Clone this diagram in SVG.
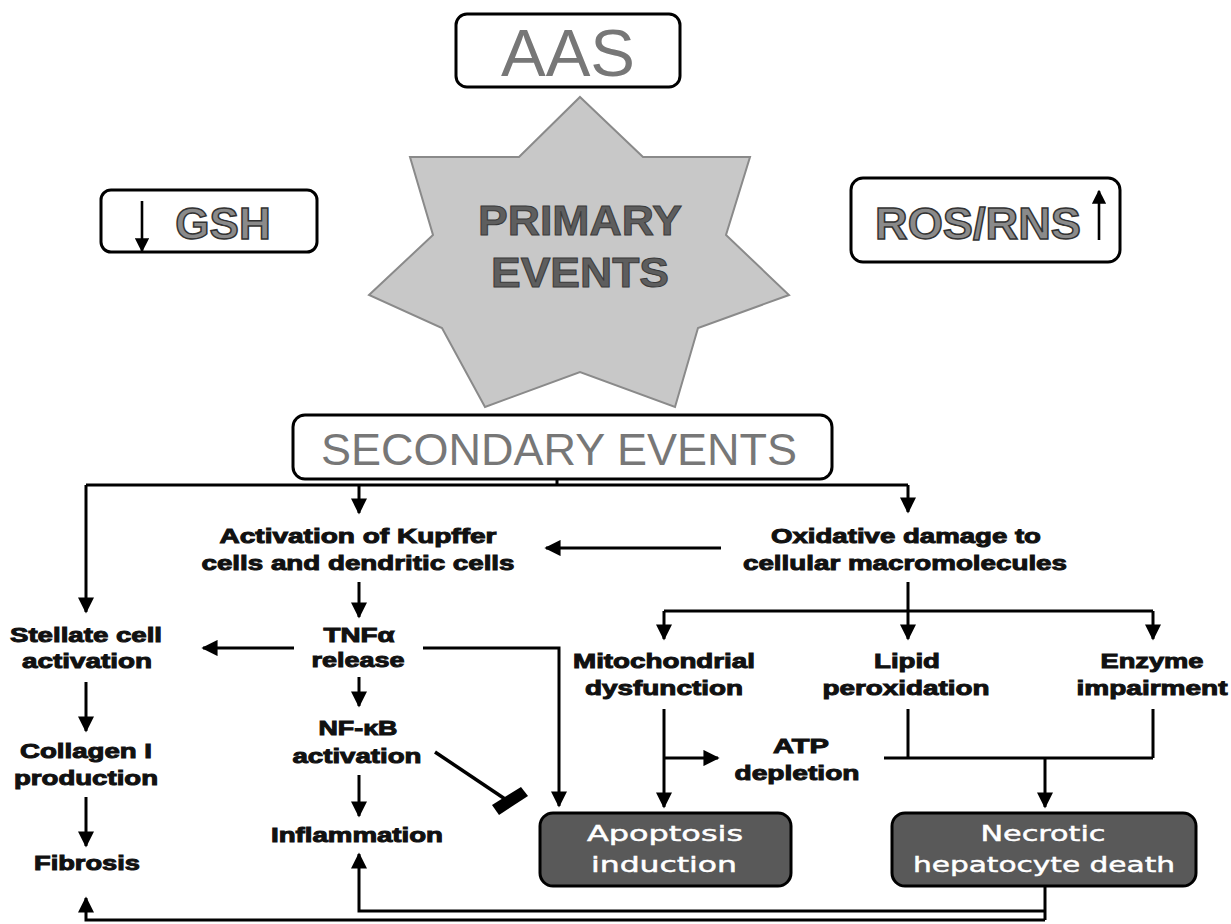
<svg xmlns="http://www.w3.org/2000/svg" width="1231" height="924" viewBox="0 0 1231 924">
<style>
.box{fill:#fff;stroke:#000;stroke-width:3}
.dark{fill:#595959;stroke:#000;stroke-width:3}
.lbl{font-family:"Liberation Sans",Arial,sans-serif;font-weight:bold;font-size:21px;fill:#111;stroke:#111;stroke-width:1;text-anchor:middle}
.wt{font-family:"DejaVu Sans","Liberation Sans",sans-serif;font-size:22px;fill:#fff;stroke:#fff;stroke-width:0.5;text-anchor:middle}
.big{font-family:"Liberation Sans",Arial,sans-serif;fill:#777;text-anchor:middle}
.out{font-family:"Liberation Sans",Arial,sans-serif;font-weight:bold;fill:#8a8a8a;stroke:#333;stroke-width:1.5;text-anchor:middle}
.ln{fill:none;stroke:#000;stroke-width:3}
.arr{marker-end:url(#ah)}
</style>
<defs>
<marker id="ah" viewBox="0 0 10 10" refX="9" refY="5" markerWidth="5.4" markerHeight="5.4" orient="auto"><path d="M0,0 L10,5 L0,10z" fill="#000"/></marker>
</defs>
<rect width="1231" height="924" fill="#fff"/>

<g id="aas">
<rect class="box" x="456" y="14" width="224" height="73" rx="11"/>
<text class="big" x="568" y="76" font-size="67">AAS</text>
</g>

<g id="gsh">
<rect class="box" x="101" y="190" width="216" height="62" rx="10"/>
<path class="ln arr" d="M142,201 V251" style="stroke-width:2.6"/>
<text class="out" x="223" y="239" font-size="44">GSH</text>
</g>

<g id="ros">
<rect class="box" x="851" y="178" width="269" height="84" rx="12"/>
<text class="out" x="978" y="239" font-size="45" textLength="206" lengthAdjust="spacingAndGlyphs">ROS/RNS</text>
<path class="ln arr" d="M1099,240 V191" style="stroke-width:2.6"/>
</g>

<g id="primary">
<polygon points="580,97 643,157 750,157 726,235 789,295 698,328 675,407 580,372 485,407 442,328 369,295 433,235 410,157 519,157" fill="#c8c8c8" stroke="#8a8a8a" stroke-width="2"/>
<text x="580" y="235" font-family="Liberation Sans,Arial,sans-serif" font-weight="bold" font-size="42" fill="#5e5e5e" stroke="#3a3a3a" stroke-width="1" text-anchor="middle" textLength="204" lengthAdjust="spacingAndGlyphs">PRIMARY</text>
<text x="580" y="287" font-family="Liberation Sans,Arial,sans-serif" font-weight="bold" font-size="42" fill="#5e5e5e" stroke="#3a3a3a" stroke-width="1" text-anchor="middle" textLength="178" lengthAdjust="spacingAndGlyphs">EVENTS</text>
</g>

<g id="secondary">
<rect class="box" x="293" y="415" width="539" height="64" rx="12"/>
<text class="big" x="559" y="465" font-size="45">SECONDARY EVENTS</text>
</g>

<g id="kupffer">
<text class="lbl" x="358" y="543" textLength="277" lengthAdjust="spacingAndGlyphs">Activation of Kupffer</text>
<text class="lbl" x="358" y="570" textLength="313" lengthAdjust="spacingAndGlyphs">cells and dendritic cells</text>
</g>
<g id="oxidative">
<text class="lbl" x="906" y="543" textLength="270" lengthAdjust="spacingAndGlyphs">Oxidative damage to</text>
<text class="lbl" x="905" y="570" textLength="324" lengthAdjust="spacingAndGlyphs">cellular macromolecules</text>
</g>
<g id="stellate">
<text class="lbl" x="86" y="642" textLength="152" lengthAdjust="spacingAndGlyphs">Stellate cell</text>
<text class="lbl" x="87" y="668" textLength="130" lengthAdjust="spacingAndGlyphs">activation</text>
</g>
<g id="tnf">
<text class="lbl" x="359" y="642" textLength="71" lengthAdjust="spacingAndGlyphs">TNFα</text>
<text class="lbl" x="358" y="667" textLength="93" lengthAdjust="spacingAndGlyphs">release</text>
</g>
<g id="nfkb">
<text class="lbl" x="358" y="735" textLength="79" lengthAdjust="spacingAndGlyphs">NF-κB</text>
<text class="lbl" x="357" y="763" textLength="129" lengthAdjust="spacingAndGlyphs">activation</text>
</g>
<g id="inflammation">
<text class="lbl" x="357" y="842" textLength="172" lengthAdjust="spacingAndGlyphs">Inflammation</text>
</g>
<g id="collagen">
<text class="lbl" x="86" y="758" textLength="132" lengthAdjust="spacingAndGlyphs">Collagen I</text>
<text class="lbl" x="86" y="785" textLength="144" lengthAdjust="spacingAndGlyphs">production</text>
</g>
<g id="fibrosis">
<text class="lbl" x="87" y="870" textLength="106" lengthAdjust="spacingAndGlyphs">Fibrosis</text>
</g>
<g id="mito">
<text class="lbl" x="664" y="668" textLength="182" lengthAdjust="spacingAndGlyphs">Mitochondrial</text>
<text class="lbl" x="664" y="695" textLength="158" lengthAdjust="spacingAndGlyphs">dysfunction</text>
</g>
<g id="lipid">
<text class="lbl" x="907" y="668" textLength="66" lengthAdjust="spacingAndGlyphs">Lipid</text>
<text class="lbl" x="906" y="695" textLength="167" lengthAdjust="spacingAndGlyphs">peroxidation</text>
</g>
<g id="enzyme">
<text class="lbl" x="1152" y="668" textLength="103" lengthAdjust="spacingAndGlyphs">Enzyme</text>
<text class="lbl" x="1152" y="695" textLength="151" lengthAdjust="spacingAndGlyphs">impairment</text>
</g>
<g id="atp">
<text class="lbl" x="801" y="753" textLength="56" lengthAdjust="spacingAndGlyphs">ATP</text>
<text class="lbl" x="797" y="780" textLength="125" lengthAdjust="spacingAndGlyphs">depletion</text>
</g>
<g id="apoptosis">
<rect class="dark" x="540" y="813" width="251" height="73" rx="13"/>
<text class="wt" x="665" y="841" textLength="156" lengthAdjust="spacingAndGlyphs">Apoptosis</text>
<text class="wt" x="664" y="872" textLength="146" lengthAdjust="spacingAndGlyphs">induction</text>
</g>
<g id="necrotic">
<rect class="dark" x="892" y="813" width="304" height="73" rx="13"/>
<text class="wt" x="1043" y="841" textLength="125" lengthAdjust="spacingAndGlyphs">Necrotic</text>
<text class="wt" x="1044" y="872" textLength="262" lengthAdjust="spacingAndGlyphs">hepatocyte death</text>
</g>

<g id="connectors">
<path class="ln" d="M557,479 V485 M86,485 H908"/>
<path class="ln arr" d="M86,485 V612"/>
<path class="ln arr" d="M359,485 V513"/>
<path class="ln arr" d="M908,485 V512"/>
<path class="ln arr" d="M721,548 H546"/>
<path class="ln arr" d="M359,582 V617"/>
<path class="ln arr" d="M294,648 H203"/>
<path class="ln arr" d="M423,648 H559 V806"/>
<path class="ln arr" d="M359,677 V706"/>
<path class="ln arr" d="M359,775 V816"/>
<path class="ln arr" d="M86,682 V731"/>
<path class="ln arr" d="M86,797 V846"/>
<path class="ln" d="M435,752 L508,801" style="stroke-width:3.5"/>
<polygon points="492,805 499,815 528,796 521,787" fill="#000"/>
<path class="ln" d="M908,582 V611 M664,611 H1153"/>
<path class="ln arr" d="M908,611 V639"/>
<path class="ln arr" d="M664,611 V639"/>
<path class="ln arr" d="M1153,611 V639"/>
<path class="ln arr" d="M664,709 V807"/>
<path class="ln arr" d="M664,758 H718"/>
<path class="ln" d="M908,709 V758 M1153,709 V758 M884,758 H1153"/>
<path class="ln arr" d="M1045,758 V807"/>
<path class="ln" d="M1045,886 V920"/>
<path class="ln arr" d="M1045,911 H359 V854"/>
<path class="ln arr" d="M1045,920 H86 V898"/>
</g>
</svg>
